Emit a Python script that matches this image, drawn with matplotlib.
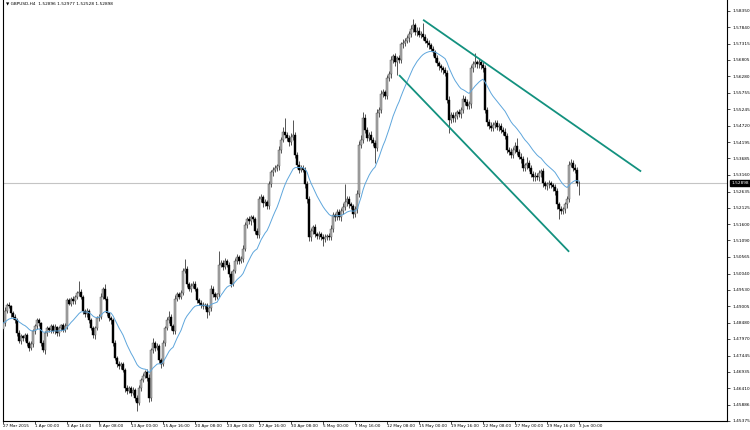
import numpy as np
import pandas as pd
import matplotlib
matplotlib.use("Agg")
import matplotlib.pyplot as plt
from matplotlib.transforms import blended_transform_factory

# ---------------- data (GBPUSD H4) ----------------
closes = [
    1.4847, 1.4887, 1.4906, 1.4900, 1.4878, 1.4868, 1.4856, 1.4815, 1.4790, 1.4806, 1.4799, 1.4809, 1.4784, 1.4768, 1.4781, 1.4821,
    1.4837, 1.4856, 1.4847, 1.4784, 1.4762, 1.4815, 1.4831, 1.4825, 1.4837, 1.4821, 1.4834, 1.4815, 1.4831, 1.4840, 1.4825, 1.4837,
    1.4919, 1.4909, 1.4925, 1.4916, 1.4931, 1.4941, 1.4947, 1.4931, 1.4884, 1.4875, 1.4887, 1.4856, 1.4831, 1.4809, 1.4831, 1.4862,
    1.4868, 1.4931, 1.4956, 1.4925, 1.4878, 1.4862, 1.4856, 1.4784, 1.4737, 1.4718, 1.4711, 1.4718, 1.4699, 1.4642, 1.4633, 1.4642,
    1.4627, 1.4636, 1.4611, 1.4595, 1.4642, 1.4668, 1.4680, 1.4693, 1.4674, 1.4611, 1.4762, 1.4784, 1.4768, 1.4774, 1.4730, 1.4718,
    1.4784, 1.4831, 1.4856, 1.4868, 1.4837, 1.4821, 1.4925, 1.4938, 1.4931, 1.4944, 1.5013, 1.5019, 1.4972, 1.4956, 1.4966, 1.4972,
    1.4956, 1.4919, 1.4912, 1.4906, 1.4900, 1.4906, 1.4881, 1.4894, 1.4956, 1.4938, 1.4931, 1.4938, 1.5032, 1.5038, 1.5026, 1.5044,
    1.5032, 1.5004, 1.4972, 1.5013, 1.5044, 1.5057, 1.5044, 1.5051, 1.5082, 1.5157, 1.5176, 1.5170, 1.5182, 1.5176, 1.5139, 1.5126,
    1.5239, 1.5245, 1.5226, 1.5230, 1.5217, 1.5286, 1.5324, 1.5333, 1.5339, 1.5343, 1.5396, 1.5427, 1.5453, 1.5443, 1.5434, 1.5421,
    1.5437, 1.5443, 1.5380, 1.5349, 1.5333, 1.5339, 1.5333, 1.5286, 1.5239, 1.5120, 1.5139, 1.5151, 1.5129, 1.5123, 1.5129, 1.5120,
    1.5113, 1.5120, 1.5123, 1.5120, 1.5145, 1.5189, 1.5182, 1.5198, 1.5182, 1.5201, 1.5214, 1.5230, 1.5239, 1.5223, 1.5217, 1.5192,
    1.5208, 1.5255, 1.5412, 1.5427, 1.5496, 1.5459, 1.5434, 1.5443, 1.5427, 1.5418, 1.5402, 1.5512, 1.5522, 1.5572, 1.5578, 1.5566,
    1.5622, 1.5635, 1.5679, 1.5691, 1.5672, 1.5685, 1.5679, 1.5729, 1.5735, 1.5741, 1.5748, 1.5763, 1.5779, 1.5789, 1.5767, 1.5773,
    1.5760, 1.5763, 1.5754, 1.5741, 1.5732, 1.5726, 1.5716, 1.5704, 1.5685, 1.5669, 1.5660, 1.5653, 1.5647, 1.5638, 1.5553, 1.5490,
    1.5506, 1.5496, 1.5503, 1.5515, 1.5509, 1.5522, 1.5556, 1.5547, 1.5534, 1.5540, 1.5653, 1.5666, 1.5672, 1.5666, 1.5672, 1.5663,
    1.5653, 1.5522, 1.5484, 1.5471, 1.5465, 1.5475, 1.5481, 1.5468, 1.5471, 1.5459, 1.5453, 1.5440, 1.5396, 1.5390, 1.5380, 1.5396,
    1.5409, 1.5390, 1.5374, 1.5365, 1.5339, 1.5346, 1.5355, 1.5339, 1.5318, 1.5308, 1.5314, 1.5308, 1.5321, 1.5327, 1.5289, 1.5280,
    1.5286, 1.5289, 1.5283, 1.5277, 1.5264, 1.5223, 1.5208, 1.5201, 1.5208, 1.5223, 1.5239, 1.5349, 1.5355, 1.5339, 1.5333, 1.52896,
    1.52898,
]
first_open = 1.4830

# wick lengths in pips (0.0001) above / below the candle body
upper_wick_pips = [
    8, 10, 6, 9, 5, 7, 8, 6, 9, 7, 5, 8, 6, 7, 9, 8,
    6, 8, 7, 5, 9, 6, 8, 5, 7, 6, 9, 5, 8, 6, 7, 10,
    7, 9, 6, 8, 5, 7, 32, 8, 6, 9, 7, 5, 8, 6, 7, 9,
    8, 12, 6, 16, 7, 5, 8, 6, 9, 7, 8, 6, 5, 7, 8, 6,
    7, 9, 6, 8, 10, 7, 8, 6, 9, 12, 8, 15, 7, 9, 6, 8,
    10, 8, 9, 16, 7, 6, 12, 8, 7, 9, 10, 32, 8, 6, 9, 7,
    8, 6, 9, 7, 8, 6, 5, 9, 12, 8, 7, 6, 44, 9, 8, 10,
    7, 9, 8, 6, 10, 8, 7, 9, 12, 10, 8, 9, 7, 8, 6, 9,
    12, 10, 8, 9, 7, 11, 9, 8, 10, 9, 12, 10, 14, 43, 10, 9,
    12, 47, 9, 8, 10, 7, 9, 8, 12, 10, 9, 8, 11, 7, 9, 8,
    8, 9, 7, 10, 12, 9, 8, 11, 9, 10, 12, 56, 10, 9, 8, 7,
    9, 12, 10, 14, 19, 12, 10, 9, 11, 8, 10, 14, 9, 12, 10, 8,
    11, 10, 12, 9, 10, 8, 12, 9, 10, 8, 11, 9, 10, 21, 9, 11,
    10, 9, 35, 8, 9, 10, 7, 9, 8, 10, 9, 8, 9, 10, 9, 12,
    10, 9, 11, 8, 10, 9, 12, 10, 9, 11, 12, 10, 29, 9, 10, 8,
    9, 12, 10, 9, 11, 8, 10, 9, 8, 10, 9, 11, 10, 9, 12, 10,
    11, 25, 9, 10, 11, 9, 19, 8, 10, 9, 11, 8, 10, 9, 10, 8,
    9, 10, 8, 9, 10, 11, 9, 10, 8, 9, 10, 12, 10, 9, 11, 8,
    8,
]
lower_wick_pips = [
    7, 9, 8, 6, 10, 7, 9, 8, 6, 9, 7, 8, 10, 9, 7, 8,
    9, 7, 8, 10, 6, 12, 8, 7, 9, 6, 8, 7, 9, 8, 6, 7,
    8, 6, 9, 7, 8, 6, 7, 9, 8, 10, 7, 9, 6, 8, 12, 7,
    9, 8, 7, 6, 8, 9, 10, 8, 7, 9, 8, 10, 8, 12, 9, 8,
    10, 8, 9, 25, 8, 9, 7, 8, 10, 12, 9, 8, 10, 7, 9, 13,
    8, 9, 7, 8, 10, 9, 8, 7, 9, 8, 9, 7, 10, 8, 9, 7,
    8, 9, 7, 10, 8, 9, 19, 8, 9, 7, 10, 8, 9, 8, 10, 9,
    8, 10, 9, 8, 7, 9, 10, 8, 9, 8, 10, 9, 12, 10, 9, 10,
    10, 9, 12, 8, 10, 9, 8, 10, 9, 11, 10, 9, 8, 10, 9, 12,
    10, 9, 11, 12, 10, 9, 8, 10, 11, 12, 14, 10, 9, 11, 10, 9,
    22, 10, 9, 11, 10, 9, 12, 10, 9, 11, 10, 9, 12, 10, 9, 11,
    10, 12, 10, 10, 11, 9, 10, 10, 9, 11, 47, 9, 12, 10, 9, 11,
    10, 9, 12, 10, 11, 41, 10, 9, 11, 10, 9, 12, 10, 11, 9, 10,
    9, 11, 10, 9, 12, 10, 9, 11, 10, 9, 12, 10, 11, 9, 10, 41,
    10, 12, 11, 9, 10, 12, 11, 9, 10, 9, 11, 10, 9, 12, 10, 11,
    10, 9, 12, 11, 10, 9, 11, 10, 12, 9, 10, 11, 12, 10, 9, 11,
    10, 11, 9, 12, 10, 9, 11, 10, 9, 12, 10, 9, 11, 12, 10, 9,
    11, 10, 9, 12, 11, 14, 32, 10, 9, 11, 12, 10, 9, 11, 12, 10,
    37,
]

ma_period = 20  # exponential moving average of closes

x_tick_labels = [
    "27 Mar 2015", "1 Apr 00:00", "3 Apr 16:00", "8 Apr 08:00", "13 Apr 00:00",
    "15 Apr 16:00", "20 Apr 08:00", "23 Apr 00:00", "27 Apr 16:00", "30 Apr 08:00",
    "5 May 00:00", "7 May 16:00", "12 May 08:00", "15 May 00:00", "19 May 16:00",
    "22 May 08:00", "27 May 00:00", "29 May 16:00", "3 Jun 00:00",
]
bars_per_label = 16

y_tick_values = [
    1.58350, 1.57840, 1.57315, 1.56805, 1.56280, 1.55755, 1.55245, 1.54720,
    1.54195, 1.53685, 1.53160, 1.52635, 1.52125, 1.51600, 1.51090, 1.50565,
    1.50040, 1.49530, 1.49005, 1.48480, 1.47970, 1.47445, 1.46935, 1.46410,
    1.45886, 1.45375,
]
last_price = 1.52898
header_text = "\u25BC GBPUSD,H4  1.52896 1.52977 1.52528 1.52898"

# trend channel lines: (bar index, price) endpoints
upper_channel_x = [210, 319]
upper_channel_y = [1.5807, 1.5327]
lower_channel_x = [198, 283]
lower_channel_y = [1.5632, 1.5073]

# ---------------- build OHLC ----------------
assert len(closes) == len(upper_wick_pips) == len(lower_wick_pips)
c = np.array(closes)
o = np.r_[first_open, c[:-1]]
hi = np.maximum(o, c) + np.array(upper_wick_pips) * 1e-4
lo = np.minimum(o, c) - np.array(lower_wick_pips) * 1e-4
x = np.arange(len(c))
ma = pd.Series(c).ewm(span=ma_period, adjust=False).mean().values

# ---------------- figure ----------------
W, H = 750, 430
fig = plt.figure(figsize=(W / 100, H / 100), dpi=100)
fig.patch.set_facecolor("white")
ax_left, ax_right, ax_top, ax_bottom = 3, 727, 0, 421
ax = fig.add_axes([ax_left / W, (H - ax_bottom) / H,
                   (ax_right - ax_left) / W, (ax_bottom - ax_top) / H])
ax.set_facecolor("white")

# current price line
ax.axhline(last_price, color="#c4c4c4", lw=0.8, zorder=1)

# candles
ax.vlines(x, lo, hi, color="#111111", lw=0.5, zorder=3)
body = c - o
min_h = 0.00004
body_h = np.where(np.abs(body) < min_h, min_h, np.abs(body))
body_b = np.minimum(o, c)
bull = c >= o
ax.bar(x[bull], body_h[bull], bottom=body_b[bull], width=0.65,
       color="#b0b0b0", edgecolor="#444444", lw=0.3, zorder=4)
ax.bar(x[~bull], body_h[~bull], bottom=body_b[~bull], width=0.65,
       color="black", edgecolor="black", lw=0.3, zorder=4)

# moving average
ax.plot(x, ma, color="#5ea6dc", lw=0.7, zorder=5)

# channel lines
ax.plot(upper_channel_x, upper_channel_y, color="#13917f", lw=1.3, zorder=6,
        solid_capstyle="butt")
ax.plot(lower_channel_x, lower_channel_y, color="#13917f", lw=1.3, zorder=6,
        solid_capstyle="butt")

# limits
ax.set_xlim(-0.05, (ax_right - ax_left) / 2 - 0.05)
ax.set_ylim(1.45375, 1.58696)

# spines
ax.spines["top"].set_visible(False)
for s in ["left", "right", "bottom"]:
    ax.spines[s].set_color("black")
    ax.spines[s].set_linewidth(0.8)

# y axis on right
ax.yaxis.tick_right()
ax.set_yticks(y_tick_values)
ax.set_yticklabels([f"{v:.5f}" for v in y_tick_values])
ax.tick_params(axis="y", labelsize=3.1, length=2.5, width=0.5, pad=1.5,
               colors="black")

# x axis
xt = np.arange(len(x_tick_labels)) * bars_per_label
ax.set_xticks(xt)
ax.set_xticklabels(x_tick_labels, ha="left")
ax.tick_params(axis="x", labelsize=3.0, length=2, width=0.5, pad=0.3,
               colors="black")

# last price box
tr = blended_transform_factory(ax.transAxes, ax.transData)
ax.text(1.0 + 4 / (ax_right - ax_left), last_price, f"{last_price:.5f}",
        transform=tr, fontsize=3.1, color="white", va="center", ha="left",
        bbox=dict(boxstyle="square,pad=0.25", fc="black", ec="black"),
        zorder=10, clip_on=False)

# header
ax.text(3 / (ax_right - ax_left), 0.996, header_text, transform=ax.transAxes,
        fontsize=3.1, color="black", va="top", ha="left", zorder=10)

fig.savefig("out.png", dpi=100, facecolor="white")
